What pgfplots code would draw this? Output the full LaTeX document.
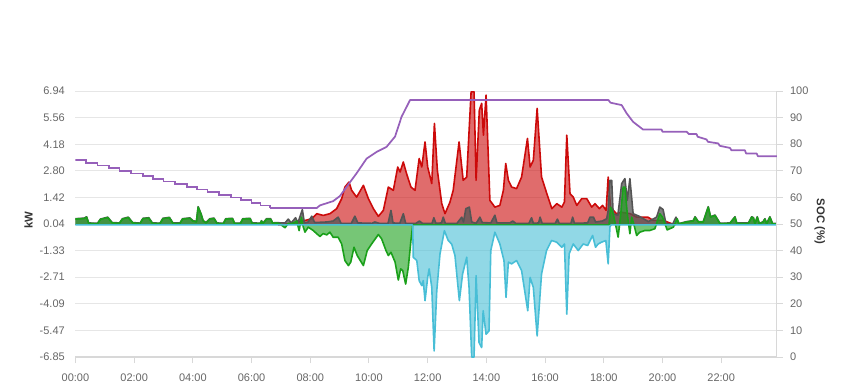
\documentclass[border=0pt]{standalone}
\usepackage{pgfplots}
\pgfplotsset{compat=1.18}
\usepackage{pgfplotstable}
\usepackage{fontspec}
\setmainfont{Liberation Sans}
\definecolor{redc}{RGB}{204,10,10}
\definecolor{grayc}{RGB}{85,85,85}
\definecolor{greenc}{RGB}{26,160,26}
\definecolor{cyanc}{RGB}{72,190,214}
\definecolor{purc}{RGB}{150,96,186}
\definecolor{tickc}{RGB}{102,102,102}
\definecolor{gridc}{RGB}{230,230,230}
\definecolor{axc}{RGB}{216,216,216}

\pgfplotstableread{
h v
6.90 0
7.20 0.05
7.50 0.12
7.83 0.23
8.05 0.32
8.22 0.58
8.44 0.49
8.67 0.58
8.90 0.84
9.07 1.36
9.18 1.96
9.32 2.22
9.41 1.79
9.58 1.44
9.81 2.05
9.98 1.36
10.15 0.84
10.32 0.44
10.49 0.75
10.66 1.96
10.83 1.79
10.98 3.00
11.06 2.74
11.17 3.26
11.28 2.66
11.43 1.96
11.57 1.79
11.71 3.44
11.80 3.00
11.91 4.30
12.00 3.00
12.14 2.14
12.23 5.26
12.33 2.83
12.48 1.10
12.59 0.58
12.76 1.18
12.87 1.79
13.07 4.30
13.21 2.31
13.33 2.48
13.48 6.90
13.58 6.90
13.65 2.31
13.76 5.95
13.84 6.30
13.90 4.65
13.99 6.73
14.12 1.27
14.29 0.92
14.46 1.01
14.58 1.79
14.66 3.18
14.75 2.31
14.86 1.96
15.03 1.88
15.20 2.48
15.40 4.48
15.49 3.00
15.60 3.35
15.73 6.04
15.88 2.48
16.06 1.62
16.23 0.84
16.40 1.10
16.57 0.92
16.66 1.18
16.74 4.65
16.85 1.62
16.96 1.44
17.08 1.01
17.25 1.36
17.42 1.36
17.59 0.92
17.70 1.10
17.85 0.84
17.96 1.01
18.08 0.75
18.15 2.48
18.23 0.92
18.43 0.58
18.60 0.65
18.90 0.58
19.12 0.40
19.50 0.40
19.69 0.23
20.03 0.23
20.26 0.09
20.45 0
}\redtab

\pgfplotstableread{
h v
0.00 0.32
0.30 0.35
0.38 0.42
0.45 0.10
0.75 0.08
0.85 0.30
1.10 0.40
1.25 0.12
1.50 0.10
1.60 0.32
1.80 0.40
1.95 0.12
2.20 0.09
2.30 0.34
2.50 0.37
2.62 0.10
2.88 0.09
2.98 0.34
3.20 0.39
3.32 0.10
3.56 0.10
3.65 0.32
3.90 0.36
4.00 0.22
4.12 0.17
4.18 0.94
4.28 0.57
4.35 0.22
4.45 0.12
4.58 0.32
4.72 0.35
4.82 0.10
5.04 0.08
5.12 0.32
5.35 0.34
5.42 0.09
5.62 0.09
5.70 0.32
5.95 0.34
6.02 0.10
6.30 0.09
6.34 0.22
6.38 0.07
6.51 0.32
6.65 0.32
6.72 0.10
6.85 0.12
7.00 0.10
7.14 0.10
7.25 0.30
7.35 0.10
7.50 0.37
7.58 0.10
7.73 0.79
7.80 0.10
7.93 0.15
8.05 0.45
8.15 0.12
8.56 0.15
8.78 0.20
8.95 0.40
9.05 0.08
9.40 0.08
9.52 0.45
9.62 0.10
10.10 0.08
10.20 0.15
10.35 0.08
10.65 0.08
10.75 0.75
10.82 0.10
11.05 0.08
11.17 0.58
11.25 0.08
11.60 0.08
11.72 0.20
11.82 0.08
12.15 0.08
12.21 0.37
12.28 0.08
12.47 0.10
12.53 0.40
12.60 0.08
13.00 0.08
13.16 0.40
13.22 0.15
13.30 0.84
13.42 0.92
13.50 0.15
13.65 0.08
13.78 0.40
13.86 0.12
14.15 0.10
14.29 0.50
14.36 0.10
14.80 0.10
14.90 0.20
15.00 0.08
15.45 0.08
15.54 0.37
15.60 0.08
15.78 0.10
15.83 0.40
15.90 0.08
16.35 0.08
16.42 0.30
16.48 0.08
16.88 0.08
16.94 0.40
17.00 0.08
17.45 0.10
17.53 0.40
17.65 0.40
17.72 0.15
17.95 0.20
18.10 0.32
18.15 0.75
18.21 2.31
18.27 2.31
18.32 0.58
18.48 0.50
18.61 2.14
18.72 2.40
18.80 1.27
18.89 2.40
19.00 0.58
19.20 0.45
19.52 0.17
19.80 0.40
19.91 0.92
20.02 0.80
20.12 0.06
20.35 0.05
20.46 0.40
20.55 0.06
20.82 0.17
21.05 0.22
21.11 0.42
21.22 0.17
21.39 0.17
21.56 0.94
21.64 0.42
21.79 0.51
21.96 0.08
22.30 0.10
22.47 0.42
22.53 0.10
22.93 0.10
23.04 0.42
23.10 0.37
23.15 0.07
23.23 0.42
23.30 0.07
23.43 0.17
23.49 0.32
23.55 0.07
23.66 0.42
23.75 0.07
23.90 0.07
}\graytab

\pgfplotstableread{
h v
0.00 0.30
0.30 0.33
0.38 0.40
0.45 0.08
0.75 0.06
0.85 0.28
1.10 0.38
1.25 0.10
1.50 0.08
1.60 0.30
1.80 0.38
1.95 0.10
2.20 0.07
2.30 0.32
2.50 0.35
2.62 0.08
2.88 0.07
2.98 0.32
3.20 0.37
3.32 0.08
3.56 0.08
3.65 0.30
3.90 0.34
4.00 0.20
4.12 0.15
4.18 0.92
4.28 0.55
4.35 0.20
4.45 0.10
4.58 0.30
4.72 0.33
4.82 0.08
5.04 0.06
5.12 0.30
5.35 0.32
5.42 0.07
5.62 0.07
5.70 0.30
5.95 0.32
6.02 0.08
6.30 0.07
6.34 0.20
6.38 0.05
6.51 0.30
6.65 0.30
6.72 0.08
6.85 0.10
6.97 0.05
7.05 -0.05
7.14 -0.15
7.25 0.08
7.35 0.05
7.45 0.12
7.54 0.20
7.62 -0.30
7.70 0.40
7.76 -0.10
7.82 -0.38
7.93 -0.12
8.10 -0.29
8.22 -0.46
8.33 -0.60
8.44 -0.45
8.56 -0.52
8.67 -0.38
8.78 -0.64
8.95 -0.64
9.07 -0.99
9.18 -1.85
9.30 -2.11
9.38 -1.93
9.49 -1.16
9.60 -1.59
9.81 -2.11
9.94 -1.33
10.09 -0.99
10.32 -0.50
10.43 -0.72
10.58 -1.33
10.66 -1.59
10.75 -1.42
10.89 -1.93
11.00 -2.86
11.08 -2.28
11.15 -2.37
11.25 -3.07
11.34 -2.20
11.43 -0.81
11.49 0
18.18 0
18.23 0.92
18.32 0.58
18.42 -0.12
18.49 -0.64
18.58 0.58
18.66 1.96
18.72 1.96
18.80 0.58
18.89 -0.46
18.95 0.40
19.02 0.06
19.12 -0.55
19.23 -0.38
19.40 -0.29
19.57 -0.29
19.74 -0.20
19.91 0.58
20.00 0.40
20.16 -0.26
20.37 -0.12
20.50 0.32
20.57 0.05
20.82 0.15
21.05 0.20
21.11 0.40
21.22 0.15
21.39 0.15
21.56 0.92
21.64 0.40
21.79 0.49
21.96 0.06
22.30 0.08
22.47 0.40
22.53 0.08
22.93 0.08
23.04 0.40
23.10 0.35
23.15 0.05
23.23 0.40
23.30 0.05
23.43 0.15
23.49 0.30
23.55 0.05
23.66 0.40
23.75 0.05
23.90 0.05
}\greentab

\pgfplotstableread{
h v
0.00 0
11.47 0
11.49 -0.05
11.51 -1.68
11.63 -1.85
11.71 -2.89
11.80 -3.15
11.85 -2.89
11.91 -3.93
12.00 -2.72
12.05 -2.28
12.14 -3.24
12.22 -6.54
12.31 -3.41
12.42 -1.50
12.57 -0.30
12.70 -0.81
12.82 -1.00
12.93 -1.59
13.08 -3.93
13.19 -2.54
13.33 -1.68
13.41 -3.24
13.50 -6.85
13.58 -6.85
13.65 -2.63
13.75 -6.10
13.84 -6.36
13.89 -4.45
13.99 -5.67
14.09 -5.50
14.15 -1.33
14.29 -0.38
14.46 -0.99
14.60 -1.85
14.67 -3.76
14.75 -1.93
14.86 -2.02
15.03 -1.85
15.20 -2.37
15.41 -4.45
15.49 -2.72
15.60 -3.24
15.73 -5.76
15.88 -2.54
16.05 -1.33
16.22 -0.81
16.40 -0.90
16.57 -1.16
16.66 -0.99
16.74 -4.63
16.82 -1.50
16.96 -0.99
17.13 -1.33
17.30 -0.99
17.45 -1.07
17.62 -0.55
17.72 -1.16
17.81 -0.99
17.92 -0.90
18.07 -0.81
18.15 -2.02
18.21 -0.10
18.25 0
23.90 0
}\cyantab

\pgfplotstableread{
h v
0.00 74
0.35 73
0.75 72
1.15 71
1.50 70
1.90 69
2.30 68
2.65 67
3.00 66
3.40 65
3.80 64
4.15 63
4.50 62
4.90 61
5.30 60
5.65 59
6.00 58
6.30 57
6.63 56
}\socnight

\pgfplotstableread{
h v
6.63 56
8.22 56
8.33 57
8.78 58.6
9.01 60.5
9.24 64
9.58 69.1
9.92 74.6
10.26 77.1
10.60 79
10.89 82.9
11.11 90.3
11.40 96.6
18.16 96.6
18.23 95.6
18.61 94.7
18.78 91.6
19.00 88.4
19.34 85.5
19.97 85.5
20.00 84.7
20.82 84.7
20.90 83.8
21.16 83.8
21.20 82.8
21.50 81.8
21.55 80.9
21.90 80.3
21.95 79.4
22.30 78.6
22.35 77.7
22.81 77.7
22.85 76.5
23.21 76.5
23.25 75.5
23.90 75.5
}\socday

\begin{document}
\begin{tikzpicture}
\useasboundingbox (0,0) rectangle (636.75pt,292.5pt);
\begin{axis}[
  at={(56.6pt,24.75pt)}, anchor=south west,
  scale only axis, width=526.1pt, height=199.5pt,
  xmin=0, xmax=23.9, ymin=-6.85, ymax=6.94,
  axis x line*=bottom, axis y line*=left,
  x axis line style={draw=axc, line width=1pt, -},
  y axis line style={draw=none},
  xtick={0,2,4,6,8,10,12,14,16,18,20,22},
  xticklabels={00:00,02:00,04:00,06:00,08:00,10:00,12:00,14:00,16:00,18:00,20:00,22:00},
  ytick={-6.85,-5.47,-4.09,-2.71,-1.33,0.04,1.42,2.80,4.18,5.56,6.94},
  yticklabels={-6.85,-5.47,-4.09,-2.71,-1.33,0.04,1.42,2.80,4.18,5.56,6.94},
  tick align=outside, major tick length=4.5pt,
  xtick style={draw=axc, line width=0.75pt},
  ytick style={draw=none},
  ymajorgrids, grid style={draw=gridc, line width=0.75pt},
  ticklabel style={font=\fontsize{8.25}{10}\selectfont, text=tickc},
  xticklabel style={yshift=-4.5pt},
  ylabel={kW},
  ylabel style={at={(axis description cs:-0.067,0.515)}, anchor=center, font=\bfseries\fontsize{8.5}{10}\selectfont, text=black!80},
  clip=true,
]
\addplot[fill=redc, fill opacity=0.6, draw=none] table[x=h,y=v]{\redtab} \closedcycle;
\addplot[draw=redc, line width=1.2pt, line join=round] table[x=h,y=v]{\redtab};
\addplot[fill=grayc, fill opacity=0.75, draw=none] table[x=h,y=v]{\graytab} \closedcycle;
\addplot[draw=grayc, line width=1.2pt, line join=round] table[x=h,y=v]{\graytab};
\addplot[fill=greenc, fill opacity=0.6, draw=none] table[x=h,y=v]{\greentab} \closedcycle;
\addplot[draw=greenc, line width=1.2pt, line join=round] table[x=h,y=v]{\greentab};
\addplot[fill=cyanc, fill opacity=0.6, draw=none] table[x=h,y=v]{\cyantab} \closedcycle;
\addplot[draw=cyanc, line width=1.2pt, line join=round] table[x=h,y=v]{\cyantab};
\end{axis}
\begin{axis}[
  at={(56.6pt,24.75pt)}, anchor=south west,
  scale only axis, width=526.1pt, height=199.5pt,
  xmin=0, xmax=23.9, ymin=0, ymax=100,
  axis x line=none, axis y line*=right,
  y axis line style={draw=axc, line width=0.75pt, -},
  ytick={0,10,...,100},
  tick align=outside, major tick length=4.5pt,
  ytick style={draw=axc, line width=0.75pt},
  /pgf/number format/assume math mode=true,
  yticklabel style={font=\fontsize{8.25}{10}\selectfont, text=tickc, xshift=1.8pt},
  ylabel={SOC (\%)},
  ylabel style={at={(axis description cs:1.061,0.51)}, anchor=center, rotate=180, font=\bfseries\fontsize{8.5}{10}\selectfont, text=black!80},
]
\addplot[draw=purc, line width=1.3pt, const plot] table[x=h,y=v]{\socnight};
\addplot[draw=purc, line width=1.3pt, line join=round] table[x=h,y=v]{\socday};
\end{axis}
\end{tikzpicture}
\end{document}
